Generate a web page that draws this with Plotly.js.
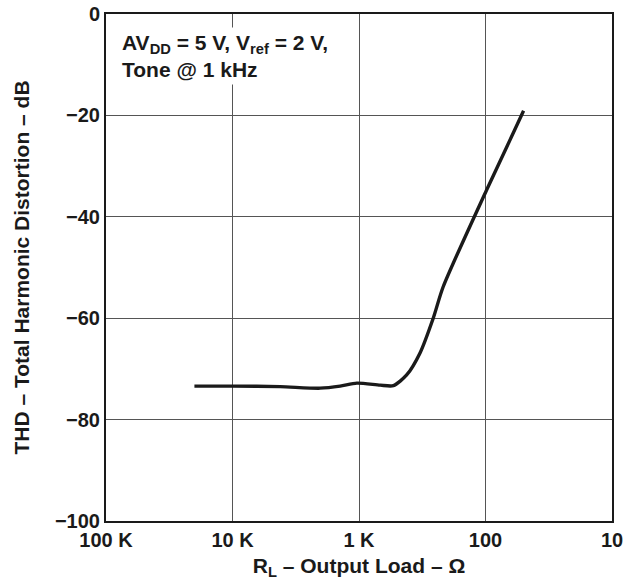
<!DOCTYPE html>
<html>
<head>
<meta charset="utf-8">
<script src="https://cdn.plot.ly/plotly-3.0.1.min.js"></script>
<style>html,body{margin:0;padding:0;background:#fff;}#chart{width:625px;height:581px;}</style>
</head>
<body>
<div id="chart"></div>
<script>
// Load resistance (ohms) and THD (dB)
const loadOhms = [20000, 10000, 4200, 2030, 1410, 1040, 680, 535, 420, 330, 259, 216, 98, 50];
const thdDb    = [-73.4, -73.4, -73.5, -73.8, -73.4, -72.8, -73.2, -73.3, -71.2, -66.9, -60.0, -53.8, -34.7, -19.1];
const xTickVals = [100000, 10000, 1000, 100, 10];
const xTickText = ["100 K", "10 K", "1 K", "100", "10"];
const yTickVals = [0, -20, -40, -60, -80, -100];
const yTickText = ["0", "\u221220", "\u221240", "\u221260", "\u221280", "\u2212100"];

const fam = "Liberation Sans, Arial, sans-serif";
const ink = "#1a1a1a";

Plotly.newPlot("chart", [{
  x: loadOhms, y: thdDb, type: "scatter", mode: "lines",
  line: {color: ink, width: 3.4, shape: "spline", smoothing: 0.7},
  hoverinfo: "skip"
}], {
  width: 625, height: 581,
  margin: {l: 106, r: 13, t: 14, b: 60},
  paper_bgcolor: "#fff", plot_bgcolor: "#fff",
  showlegend: false,
  font: {family: fam, size: 20, color: ink},
  xaxis: {
    type: "log", range: [5, 1],
    tickmode: "array", tickvals: xTickVals, ticktext: xTickText,
    tickfont: {family: fam, size: 20, color: ink, weight: "bold"},
    showgrid: true, gridcolor: "#555", gridwidth: 1,
    showline: true, linecolor: ink, linewidth: 2, mirror: true,
    ticks: "", zeroline: false, automargin: false,
    title: {text: "<b>R<sub>L</sub> – Output Load – Ω</b>", font: {family: fam, size: 21, color: ink}, standoff: 8}
  },
  yaxis: {
    range: [-100, 0],
    tickmode: "array", tickvals: yTickVals, ticktext: yTickText,
    tickfont: {family: fam, size: 20, color: ink, weight: "bold"},
    showgrid: true, gridcolor: "#555", gridwidth: 1,
    showline: true, linecolor: ink, linewidth: 2, mirror: true,
    ticks: "", zeroline: false, automargin: false,
    title: {text: "<b>THD – Total Harmonic Distortion – dB</b>", font: {family: fam, size: 21, color: ink}, standoff: 20}
  },
  annotations: [{
    xref: "paper", yref: "paper", x: 0.024, y: 0.975, xanchor: "left", yanchor: "top",
    align: "left", showarrow: false, bgcolor: "#fff", borderpad: 3,
    text: "<b>AV<sub>DD</sub> = 5 V, V<sub>ref</sub> = 2 V,<br>Tone @ 1 kHz</b>",
    font: {family: fam, size: 21, color: ink}
  }]
}, {staticPlot: true});
</script>
</body>
</html>
